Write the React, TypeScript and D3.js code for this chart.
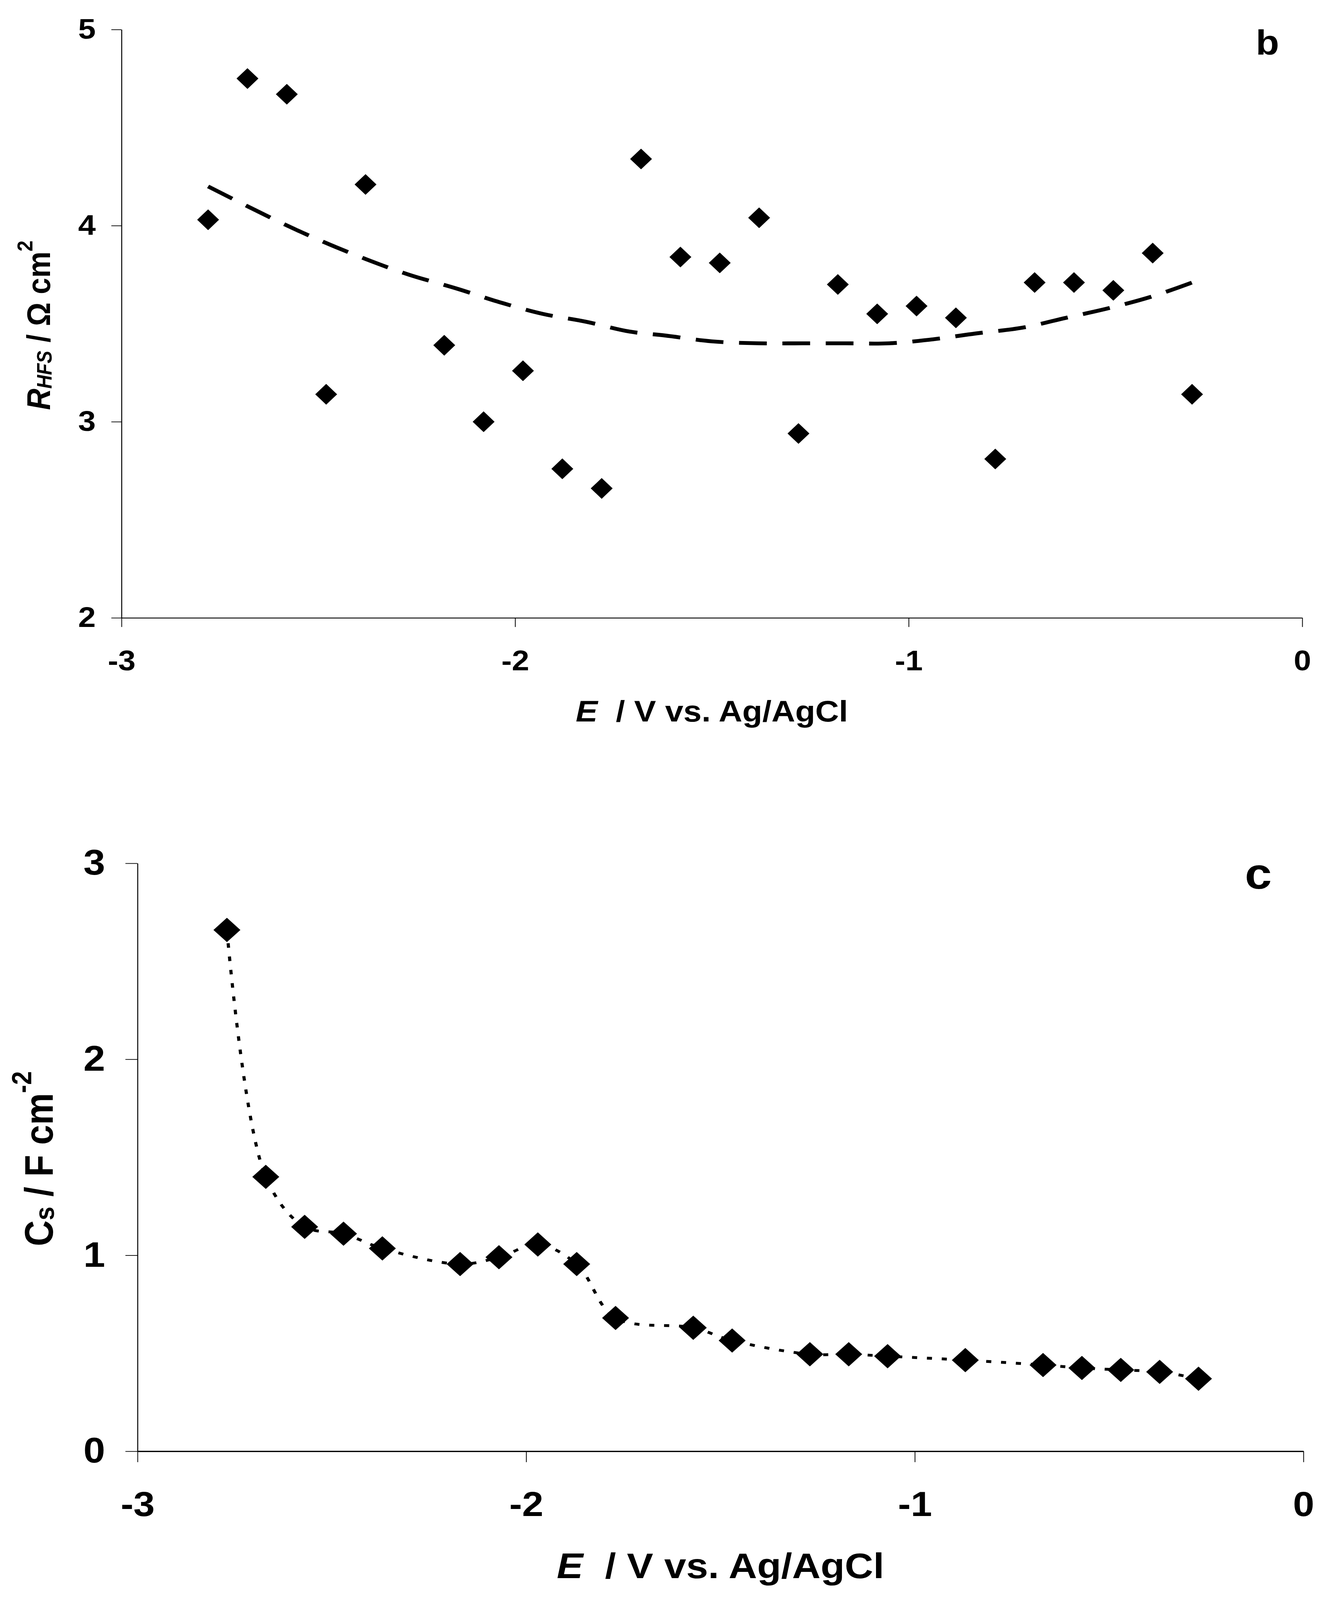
import { useEffect, useRef } from 'react';
import * as d3 from 'd3';

const WIDTH = 3404;
const HEIGHT = 4550;
const FONT = 'Liberation Sans, Arial, Helvetica, sans-serif';

// Panel b: R_HFS vs potential (scatter)
const rhfsE = [-2.78, -2.68, -2.58, -2.48, -2.38, -2.18, -2.08, -1.98, -1.88, -1.78, -1.68, -1.58, -1.48,
  -1.38, -1.28, -1.18, -1.08, -0.98, -0.88, -0.78, -0.68, -0.58, -0.48, -0.38, -0.28];
const rhfsValues = [4.03, 4.75, 4.67, 3.14, 4.21, 3.39, 3.0, 3.26, 2.76, 2.66, 4.34, 3.84, 3.81,
  4.04, 2.94, 3.7, 3.55, 3.59, 3.53, 2.81, 3.71, 3.71, 3.67, 3.86, 3.14];

// Panel b: dashed trend curve
const trendE = [-2.78, -2.6, -2.49, -2.38, -2.27, -2.15, -2.04, -1.93, -1.82, -1.71, -1.62, -1.5,
  -1.38, -1.27, -1.16, -1.05, -0.94, -0.83, -0.71, -0.6, -0.49, -0.38, -0.28];
const trendR = [4.2, 4.02, 3.92, 3.83, 3.75, 3.68, 3.61, 3.55, 3.51, 3.46, 3.44, 3.41,
  3.4, 3.4, 3.4, 3.4, 3.42, 3.45, 3.48, 3.53, 3.58, 3.64, 3.71];

// Panel c: C_s vs potential
const csE = [-2.77, -2.67, -2.57, -2.47, -2.37, -2.17, -2.07, -1.97, -1.87, -1.77, -1.57, -1.47,
  -1.27, -1.17, -1.07, -0.87, -0.67, -0.57, -0.47, -0.37, -0.27];
const csValues = [2.66, 1.4, 1.145, 1.11, 1.035, 0.955, 0.99, 1.055, 0.955, 0.68, 0.63, 0.565,
  0.495, 0.495, 0.485, 0.465, 0.44, 0.425, 0.415, 0.405, 0.37];

const eTicks = [-3, -2, -1, 0];
const rTicks = [2, 3, 4, 5];
const cTicks = [0, 1, 2, 3];

function diamond(w: number, h: number) {
  return 'M0,' + (-h / 2) + 'L' + (w / 2) + ',0L0,' + (h / 2) + 'L' + (-w / 2) + ',0Z';
}

const plain = (d: d3.NumberValue) => String(d);

export default function App() {
  const svgRef = useRef<SVGSVGElement>(null);

  useEffect(() => {
    document.body.style.margin = '0';
    document.body.style.overflow = 'hidden';
  }, []);

  useEffect(() => {
    if (!svgRef.current) return;
    const svg = d3.select(svgRef.current);
    svg.selectAll('*').remove();
    svg.append('rect').attr('width', WIDTH).attr('height', HEIGHT).attr('fill', '#fff');

    // ---------- panel b ----------
    const xb = d3.scaleLinear().domain([-3, 0]).range([311, 3333]);
    const yb = d3.scaleLinear().domain([2, 5]).range([1757, 84]);
    const gb = svg.append('g');

    gb.append('g')
      .attr('transform', 'translate(0,' + yb(2) + ')')
      .call(d3.axisBottom(xb).tickValues(eTicks).tickSize(26).tickSizeOuter(0).tickPadding(66).tickFormat(plain))
      .call((el) => el.select('.domain').attr('stroke-width', 2.5))
      .call((el) => el.selectAll('.tick line').attr('stroke-width', 2))
      .call((el) => el.selectAll('.tick text').attr('font-size', 80).attr('font-weight', 'bold').attr('font-family', FONT).attr('fill', '#000'));

    gb.append('g')
      .attr('transform', 'translate(' + xb(-3) + ',0)')
      .call(d3.axisLeft(yb).tickValues(rTicks).tickSize(26).tickSizeOuter(0).tickPadding(40).tickFormat(plain))
      .call((el) => el.select('.domain').attr('stroke-width', 2.5))
      .call((el) => el.selectAll('.tick line').attr('stroke-width', 2))
      .call((el) => el.selectAll('.tick text').attr('font-size', 81).attr('font-weight', 'bold').attr('font-family', FONT).attr('fill', '#000'));

    const trendLine = d3.line<number>()
      .x((_, i) => xb(trendE[i]))
      .y((d) => yb(d))
      .curve(d3.curveCatmullRom.alpha(0.5));

    gb.append('path')
      .datum(trendR)
      .attr('d', trendLine)
      .attr('fill', 'none')
      .attr('stroke', '#000')
      .attr('stroke-width', 11)
      .attr('stroke-dasharray', '71 40');

    gb.selectAll('path.pt')
      .data(rhfsValues)
      .join('path')
      .attr('class', 'pt')
      .attr('d', diamond(56, 59))
      .attr('transform', (d, i) => 'translate(' + xb(rhfsE[i]) + ',' + yb(d) + ')')
      .attr('fill', '#000');

    gb.append('text')
      .attr('x', (xb(-3) + xb(0)) / 2)
      .attr('y', 2052)
      .attr('text-anchor', 'middle')
      .attr('font-family', FONT)
      .attr('font-weight', 'bold')
      .attr('font-size', 84)
      .style('white-space', 'pre')
      .call((t) => {
        t.append('tspan').attr('font-style', 'italic').text('E');
        t.append('tspan').text('  / V vs. Ag/AgCl');
      });

    gb.append('text')
      .attr('transform', 'translate(128,925) rotate(-90)')
      .attr('text-anchor', 'middle')
      .attr('font-family', FONT)
      .attr('font-weight', 'bold')
      .attr('font-size', 84)
      .call((t) => {
        t.append('tspan').attr('font-style', 'italic').text('R');
        t.append('tspan').attr('font-style', 'italic').attr('font-size', 54).attr('dy', 4).text('HFS');
        t.append('tspan').attr('dy', -4).text(' / Ω cm');
        t.append('tspan').attr('font-size', 56).attr('dy', -45).text('2');
      });

    gb.append('text')
      .attr('x', 3214)
      .attr('y', 155)
      .attr('font-family', FONT)
      .attr('font-weight', 'bold')
      .attr('font-size', 98)
      .text('b');

    // ---------- panel c ----------
    const xc = d3.scaleLinear().domain([-3, 0]).range([352, 3336]);
    const yc = d3.scaleLinear().domain([0, 3]).range([4127, 2455]);
    const gc = svg.append('g');

    gc.append('g')
      .attr('transform', 'translate(0,' + yc(0) + ')')
      .call(d3.axisBottom(xc).tickValues(eTicks).tickSize(31).tickSizeOuter(0).tickPadding(84).tickFormat(plain))
      .call((el) => el.select('.domain').attr('stroke-width', 3.5))
      .call((el) => el.selectAll('.tick line').attr('stroke-width', 2))
      .call((el) => el.selectAll('.tick text').attr('font-size', 98).attr('font-weight', 'bold').attr('font-family', FONT).attr('fill', '#000'));

    gc.append('g')
      .attr('transform', 'translate(' + xc(-3) + ',0)')
      .call(d3.axisLeft(yc).tickValues(cTicks).tickSize(31).tickSizeOuter(0).tickPadding(52).tickFormat(plain))
      .call((el) => el.select('.domain').attr('stroke-width', 2.5))
      .call((el) => el.selectAll('.tick line').attr('stroke-width', 2))
      .call((el) => el.selectAll('.tick text').attr('font-size', 100).attr('font-weight', 'bold').attr('font-family', FONT).attr('fill', '#000'));

    const csLine = d3.line<number>()
      .x((_, i) => xc(csE[i]))
      .y((d) => yc(d))
      .curve(d3.curveCatmullRom.alpha(0.5));

    gc.append('path')
      .datum(csValues)
      .attr('d', csLine)
      .attr('fill', 'none')
      .attr('stroke', '#000')
      .attr('stroke-width', 8)
      .attr('stroke-dasharray', '13 25');

    gc.selectAll('path.pt')
      .data(csValues)
      .join('path')
      .attr('class', 'pt')
      .attr('d', diamond(69, 69))
      .attr('transform', (d, i) => 'translate(' + xc(csE[i]) + ',' + yc(d) + ')')
      .attr('fill', '#000');

    gc.append('text')
      .attr('x', (xc(-3) + xc(0)) / 2)
      .attr('y', 4488)
      .attr('text-anchor', 'middle')
      .attr('font-family', FONT)
      .attr('font-weight', 'bold')
      .attr('font-size', 101)
      .style('white-space', 'pre')
      .call((t) => {
        t.append('tspan').attr('font-style', 'italic').text('E');
        t.append('tspan').text('  / V vs. Ag/AgCl');
      });

    gc.append('text')
      .attr('transform', 'translate(135,3295) rotate(-90)')
      .attr('text-anchor', 'middle')
      .attr('font-family', FONT)
      .attr('font-weight', 'bold')
      .attr('font-size', 102)
      .call((t) => {
        t.append('tspan').text('C');
        t.append('tspan').attr('font-size', 70).attr('dy', 3).text('s');
        t.append('tspan').attr('dy', -3).text(' / F cm');
        t.append('tspan').attr('font-size', 70).attr('dy', -55).text('-2');
      });

    gc.append('text')
      .attr('x', 3186)
      .attr('y', 2527)
      .attr('font-family', FONT)
      .attr('font-weight', 'bold')
      .attr('font-size', 124)
      .text('c');
  }, []);

  // the whole figure is fitted to the visible page area
  return (
    <div style={{ position: 'fixed', left: 0, top: 0, width: '100vw', height: '100vh', background: '#fff' }}>
      <svg
        ref={svgRef}
        width="100%"
        height="100%"
        viewBox={'0 0 ' + WIDTH + ' ' + HEIGHT}
        preserveAspectRatio="none"
        style={{ display: 'block' }}
      />
    </div>
  );
}
